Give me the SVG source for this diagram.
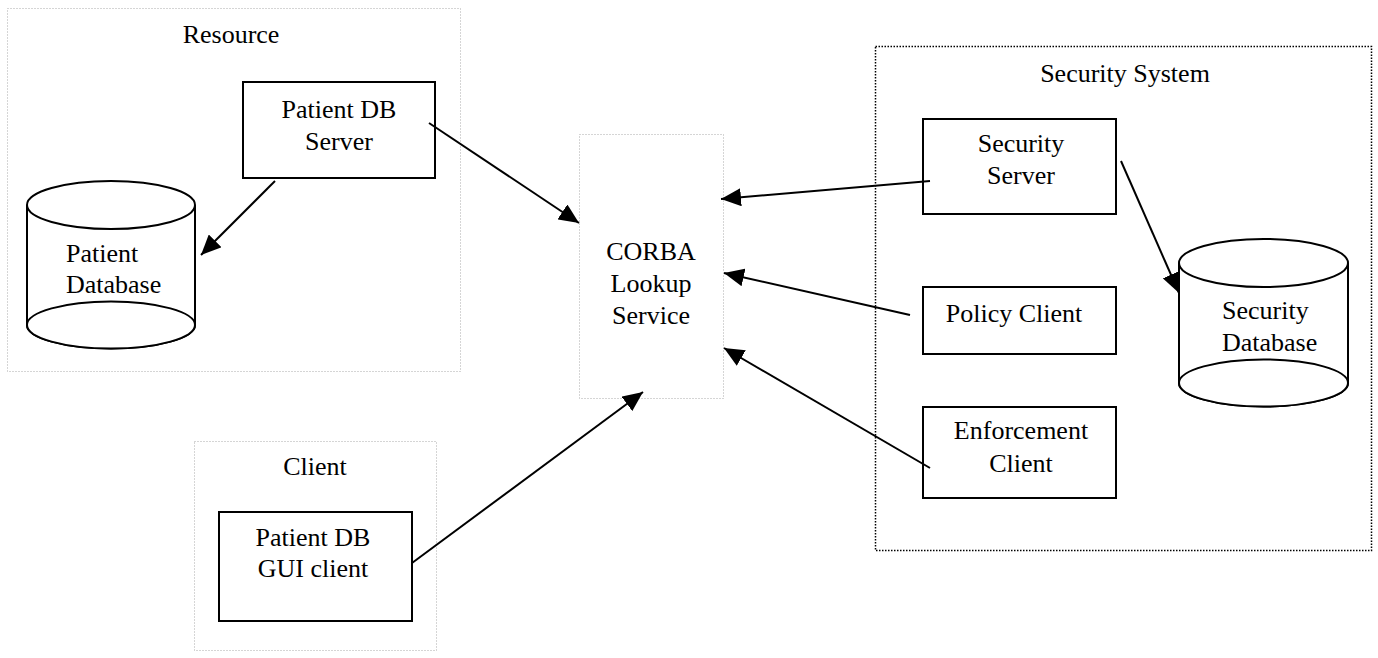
<svg xmlns="http://www.w3.org/2000/svg" width="1378" height="658" viewBox="0 0 1378 658">
  <style>
    text { font-family: "Liberation Serif", "Times New Roman", serif; font-size: 26px; fill: #000; }
    .mid { text-anchor: middle; }
    .box { fill: #fff; stroke: #000; stroke-width: 2; }
    .grp { fill: none; stroke: #aaa; stroke-width: 1; stroke-dasharray: 1 2; }
    .grp-dark { fill: none; stroke: #000; stroke-width: 1.5; stroke-dasharray: 1.5 1.5; }
    .db { fill: #fff; stroke: #000; stroke-width: 2; }
    .link { fill: none; stroke: #000; stroke-width: 2; marker-end: url(#head); }
  </style>
  <defs>
    <marker id="head" markerUnits="userSpaceOnUse" markerWidth="22" markerHeight="18" refX="20" refY="9" orient="auto">
      <path d="M0,0 L20,9 L0,18 z" fill="#000"/>
    </marker>
  </defs>
  <rect width="1378" height="658" fill="#fff"/>

  <!-- grouping frames -->
  <g id="resource">
    <rect class="grp" x="7.5" y="8.5" width="453" height="363"/>
    <text class="mid" x="231" y="43">Resource</text>
  </g>
  <g id="client">
    <rect class="grp" x="194.5" y="441.5" width="242" height="209"/>
    <text class="mid" x="315" y="475">Client</text>
  </g>
  <g id="security-system">
    <rect class="grp-dark" x="875.5" y="46.5" width="496" height="504"/>
    <text class="mid" x="1125" y="82">Security System</text>
  </g>

  <!-- components -->
  <g id="patient-db-server">
    <rect class="box" x="243" y="82" width="192" height="96"/>
    <text class="mid" x="339" y="118">Patient DB</text>
    <text class="mid" x="339" y="150">Server</text>
  </g>
  <g id="patient-database">
    <path class="db" d="M27,205 L27,325 A84,23.5 0 0 0 195,325 L195,205"/>
    <ellipse class="db" cx="111" cy="325" rx="84" ry="23.5"/>
    <ellipse class="db" cx="111" cy="205" rx="84" ry="24"/>
    <text x="66" y="262">Patient</text>
    <text x="66" y="293">Database</text>
  </g>
  <g id="corba-lookup">
    <rect class="grp" x="579.5" y="134.5" width="144" height="264"/>
    <text class="mid" x="651" y="260">CORBA</text>
    <text class="mid" x="651" y="292">Lookup</text>
    <text class="mid" x="651" y="324">Service</text>
  </g>
  <g id="patient-db-gui-client">
    <rect class="box" x="219" y="512" width="193" height="109"/>
    <text class="mid" x="313" y="546">Patient DB</text>
    <text class="mid" x="313" y="577">GUI client</text>
  </g>
  <g id="security-server">
    <rect class="box" x="923" y="119" width="193" height="95"/>
    <text class="mid" x="1021" y="152">Security</text>
    <text class="mid" x="1021" y="184">Server</text>
  </g>
  <g id="policy-client">
    <rect class="box" x="923" y="287" width="193" height="67"/>
    <text class="mid" x="1014" y="322">Policy Client</text>
  </g>
  <g id="enforcement-client">
    <rect class="box" x="923" y="407" width="193" height="91"/>
    <text class="mid" x="1021" y="439">Enforcement</text>
    <text class="mid" x="1021" y="472">Client</text>
  </g>
  <g id="security-database">
    <path class="db" d="M1179,263 L1179,383 A84.5,23.5 0 0 0 1348,383 L1348,263"/>
    <ellipse class="db" cx="1263.5" cy="383" rx="84.5" ry="23.5"/>
    <ellipse class="db" cx="1263.5" cy="263" rx="84.5" ry="24"/>
    <text x="1222" y="319">Security</text>
    <text x="1222" y="351">Database</text>
  </g>

  <!-- connectors -->
  <g id="connectors">
    <line class="link" x1="275" y1="181" x2="201" y2="255"/>
    <line class="link" x1="429" y1="123" x2="579" y2="223"/>
    <line class="link" x1="930" y1="181" x2="721" y2="199"/>
    <line class="link" x1="910" y1="315" x2="724" y2="273"/>
    <line class="link" x1="930" y1="468" x2="724" y2="348"/>
    <line class="link" x1="412" y1="563" x2="643" y2="392"/>
    <line class="link" x1="1121" y1="161" x2="1179" y2="293"/>
  </g>
</svg>
